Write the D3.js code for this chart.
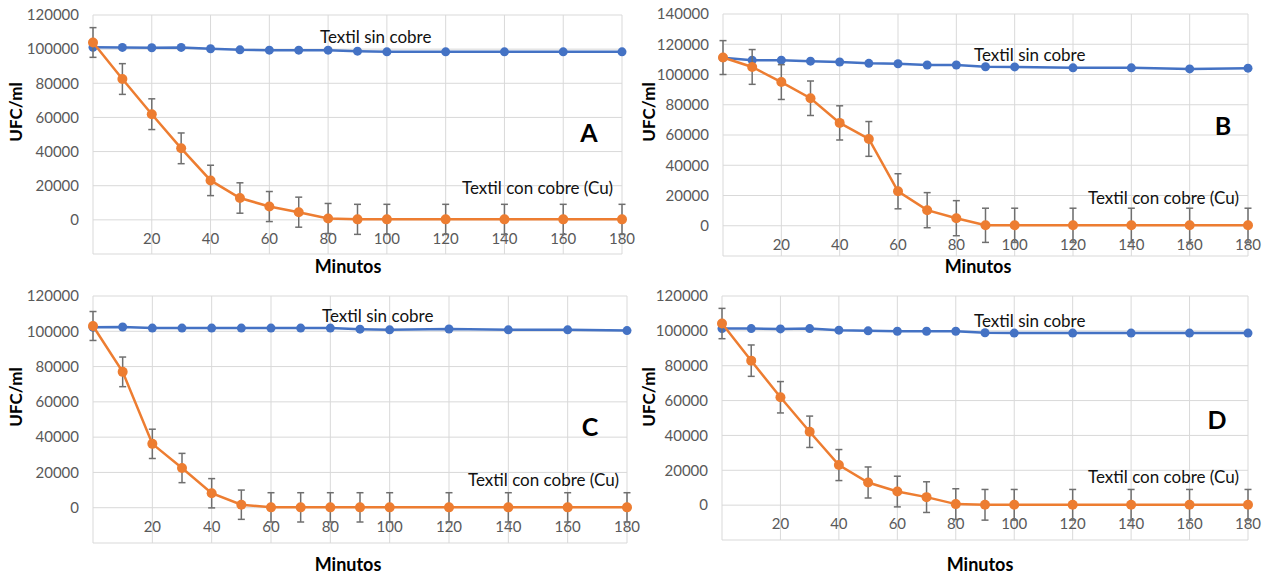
<!DOCTYPE html>
<html>
<head>
<meta charset="utf-8">
<style>
  body { margin: 0; background: #fff; }
  text { font-family: Lato, "Liberation Sans", sans-serif; }
</style>
</head>
<body>
<svg id="dataviz_area" width="1271" height="578"></svg>

<!-- Load d3.js -->
<script src="https://d3js.org/d3.v7.min.js"></script>

<script>
  // Data: minutes of contact and UFC/ml counts
  var minutos = [0, 10, 20, 30, 40, 50, 60, 70, 80, 90, 100, 120, 140, 160, 180];
  var xTicks = [20, 40, 60, 80, 100, 120, 140, 160, 180];
  var yTicks120 = [0, 20000, 40000, 60000, 80000, 100000, 120000];
  var yTicks140 = [0, 20000, 40000, 60000, 80000, 100000, 120000, 140000];

  var sinCobreA = [101100, 101000, 100800, 101000, 100200, 99600, 99400, 99400, 99400, 98800, 98400, 98400, 98400, 98400, 98400];
  var conCobreA = [103900, 82500, 61900, 41900, 23100, 12800, 7800, 4500, 800, 300, 300, 300, 300, 300, 300];
  var errorA = [8700, 9000, 9000, 9000, 8900, 8900, 8800, 8800, 8800, 8800, 8800, 8800, 8800, 8800, 8800];

  var sinCobreB = [111000, 109500, 109500, 108800, 108300, 107400, 107100, 106300, 106300, 105100, 105000, 104400, 104400, 103700, 104200];
  var conCobreB = [111200, 105000, 95000, 84300, 68000, 57400, 22800, 10300, 5000, 300, 300, 300, 300, 300, 300];
  var errorB = [11200, 11500, 11500, 11400, 11300, 11500, 11600, 11600, 11600, 11300, 11300, 11300, 11300, 11300, 11300];

  var sinCobreC = [102300, 102400, 101800, 101800, 101800, 101800, 101800, 101800, 101800, 101200, 100800, 101300, 100800, 100800, 100400];
  var conCobreC = [103000, 77000, 36200, 22500, 8200, 1700, 200, 200, 200, 200, 200, 200, 200, 200, 200];
  var errorC = [8200, 8400, 8300, 8300, 8300, 8300, 8300, 8300, 8300, 8300, 8300, 8300, 8300, 8300, 8300];

  var sinCobreD = [101300, 101300, 101100, 101300, 100400, 100000, 99800, 99800, 99800, 98900, 98700, 98700, 98700, 98700, 98700];
  var conCobreD = [104200, 82900, 61900, 42100, 23000, 13000, 7800, 4600, 600, 200, 200, 200, 200, 200, 200];
  var errorD = [8700, 9000, 9000, 9000, 8900, 8900, 8800, 8800, 8800, 8800, 8800, 8800, 8800, 8800, 8800];

  var svg = d3.select("#dataviz_area");

  var blue = "#4472c4", orange = "#ed7d31", grid = "#d9d9d9", tickColor = "#595959";

  // one panel = one Excel-like line chart
  function drawPanel(p) {
    var x = d3.scaleLinear().domain([0, 180]).range([p.left, p.right]);
    var y = d3.scaleLinear().domain([-20000, p.yMax]).range([p.bottom, p.top]);
    var g = svg.append("g");

    // gridlines (vertical every 20 min, horizontal every 20000)
    g.selectAll("vgrid").data([0].concat(xTicks)).enter().append("line")
      .attr("x1", function (d) { return x(d) }).attr("x2", function (d) { return x(d) })
      .attr("y1", y(p.yMax)).attr("y2", y(-20000))
      .style("stroke", grid).style("stroke-width", 1);
    g.selectAll("hgrid").data([-20000].concat(p.yTicks)).enter().append("line")
      .attr("x1", x(0)).attr("x2", x(180))
      .attr("y1", function (d) { return y(d) }).attr("y2", function (d) { return y(d) })
      .style("stroke", grid).style("stroke-width", 1);

    // y axis labels
    g.selectAll("ylab").data(p.yTicks).enter().append("text")
      .attr("x", x(0) - 14).attr("y", function (d) { return y(d) })
      .attr("dy", "0.35em").attr("text-anchor", "end")
      .style("font-size", "15px").style("fill", tickColor)
      .text(function (d) { return d });

    // x axis labels, sitting just under the 0 line
    g.selectAll("xlab").data(xTicks).enter().append("text")
      .attr("x", function (d) { return x(d) }).attr("y", y(0) + 19)
      .attr("dy", "0.35em").attr("text-anchor", "middle")
      .style("font-size", "15px").style("fill", tickColor)
      .text(function (d) { return d });

    var line = d3.line()
      .x(function (d) { return x(d[0]) })
      .y(function (d) { return y(d[1]) });

    var sin = minutos.map(function (m, i) { return [m, p.sin[i]] });
    var con = minutos.map(function (m, i) { return [m, p.con[i], p.err[i]] });

    // Textil sin cobre
    g.append("path").datum(sin).attr("d", line)
      .style("fill", "none").style("stroke", blue).style("stroke-width", 2.5);
    g.selectAll("bdot").data(sin).enter().append("circle")
      .attr("cx", function (d) { return x(d[0]) }).attr("cy", function (d) { return y(d[1]) })
      .attr("r", 4.5).style("fill", blue);

    // error bars of the copper textile
    var eb = g.selectAll("err").data(con).enter().append("g")
      .style("stroke", "#6f6f6f").style("stroke-width", 1.5);
    eb.append("line")
      .attr("x1", function (d) { return x(d[0]) }).attr("x2", function (d) { return x(d[0]) })
      .attr("y1", function (d) { return y(d[1] + d[2]) }).attr("y2", function (d) { return y(d[1] - d[2]) });
    eb.append("line")
      .attr("x1", function (d) { return x(d[0]) - 3.5 }).attr("x2", function (d) { return x(d[0]) + 3.5 })
      .attr("y1", function (d) { return y(d[1] + d[2]) }).attr("y2", function (d) { return y(d[1] + d[2]) });
    eb.append("line")
      .attr("x1", function (d) { return x(d[0]) - 3.5 }).attr("x2", function (d) { return x(d[0]) + 3.5 })
      .attr("y1", function (d) { return y(d[1] - d[2]) }).attr("y2", function (d) { return y(d[1] - d[2]) });

    // Textil con cobre (Cu)
    g.append("path").datum(con).attr("d", line)
      .style("fill", "none").style("stroke", orange).style("stroke-width", 2.5);
    g.selectAll("odot").data(con).enter().append("circle")
      .attr("cx", function (d) { return x(d[0]) }).attr("cy", function (d) { return y(d[1]) })
      .attr("r", 5).style("fill", orange);

    // texts
    g.append("text").attr("x", p.sinLab[0]).attr("y", p.sinLab[1]).attr("dy", "0.35em")
      .style("font-size", "17px").style("fill", "#111").text("Textil sin cobre");
    g.append("text").attr("x", p.conLab[0]).attr("y", p.conLab[1]).attr("dy", "0.35em")
      .style("font-size", "17px").style("fill", "#111").text("Textil con cobre (Cu)");
    g.append("text").attr("x", p.letter[0]).attr("y", p.letter[1]).attr("dy", "0.35em")
      .attr("text-anchor", "middle").style("font-size", "25px").style("font-weight", "bold")
      .text(p.name);
    g.append("text").attr("x", p.xTitle[0]).attr("y", p.xTitle[1]).attr("dy", "0.35em")
      .attr("text-anchor", "middle").style("font-size", "18px").style("font-weight", "bold")
      .text("Minutos");
    g.append("text")
      .attr("transform", "translate(" + p.yTitle[0] + "," + p.yTitle[1] + ") rotate(-90)")
      .attr("dy", "0.35em").attr("text-anchor", "middle")
      .style("font-size", "17px").style("font-weight", "bold")
      .text("UFC/ml");
  }

  drawPanel({ name: "A", sin: sinCobreA, con: conCobreA, err: errorA, yMax: 120000, yTicks: yTicks120,
    left: 93, right: 622, top: 15, bottom: 254,
    sinLab: [320, 37], conLab: [462, 188], letter: [589, 133], xTitle: [348, 267], yTitle: [16, 112] });
  drawPanel({ name: "B", sin: sinCobreB, con: conCobreB, err: errorB, yMax: 140000, yTicks: yTicks140,
    left: 723, right: 1248, top: 14, bottom: 256,
    sinLab: [974, 55], conLab: [1088, 198], letter: [1223, 126], xTitle: [978, 267], yTitle: [649, 112] });
  drawPanel({ name: "C", sin: sinCobreC, con: conCobreC, err: errorC, yMax: 120000, yTicks: yTicks120,
    left: 93, right: 627, top: 296, bottom: 543,
    sinLab: [322, 316], conLab: [468, 480], letter: [590, 427], xTitle: [348, 565], yTitle: [16, 397] });
  drawPanel({ name: "D", sin: sinCobreD, con: conCobreD, err: errorD, yMax: 120000, yTicks: yTicks120,
    left: 722, right: 1248, top: 296, bottom: 540,
    sinLab: [974, 321], conLab: [1088, 477], letter: [1217, 420], xTitle: [980, 565], yTitle: [649, 397] });
</script>
</body>
</html>
